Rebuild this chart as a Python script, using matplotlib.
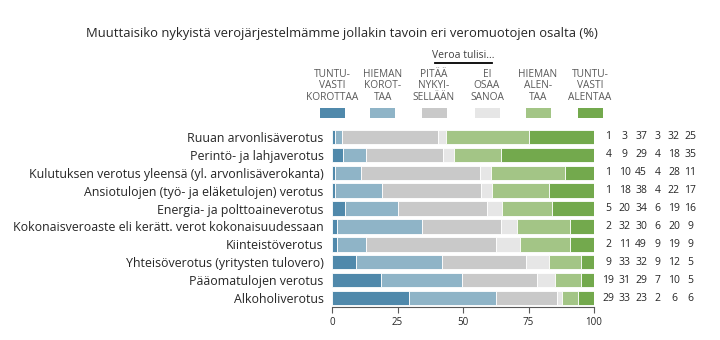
import numpy as np
import matplotlib
matplotlib.use('Agg')
import matplotlib.pyplot as plt
from matplotlib.patches import Rectangle
from matplotlib.lines import Line2D

plt.rcParams['font.family'] = ['Open Sans', 'DejaVu Sans']

categories = ['Ruuan arvonlisäverotus', 'Perintö- ja lahjaverotus',
              'Kulutuksen verotus yleensä (yl. arvonlisäverokanta)',
              'Ansiotulojen (työ- ja eläketulojen) verotus',
              'Energia- ja polttoaineverotus',
              'Kokonaisveroaste eli kerätt. verot kokonaisuudessaan',
              'Kiinteistöverotus', 'Yhteisöverotus (yritysten tulovero)',
              'Pääomatulojen verotus', 'Alkoholiverotus']

tuntuvasti_korottaa = [1, 4, 1, 1, 5, 2, 2, 9, 19, 29]
hieman_korottaa = [3, 9, 10, 18, 20, 32, 11, 33, 31, 33]
pitaa_nykyisellaan = [37, 29, 45, 38, 34, 30, 49, 32, 29, 23]
ei_osaa_sanoa = [3, 4, 4, 4, 6, 6, 9, 9, 7, 2]
hieman_alentaa = [32, 18, 28, 22, 19, 20, 19, 12, 10, 6]
tuntuvasti_alentaa = [25, 35, 11, 17, 16, 9, 9, 5, 5, 6]

legend_labels = ['TUNTU-\nVASTI\nKOROTTAA', 'HIEMAN\nKOROT-\nTAA', 'PITÄÄ\nNYKYI-\nSELLÄÄN',
                 'EI\nOSAA\nSANOA', 'HIEMAN\nALEN-\nTAA', 'TUNTU-\nVASTI\nALENTAA']
colors = ['#5089ab', '#8fb4c7', '#c9c9c9', '#e6e6e6', '#a3c586', '#73a94d']

series = np.array([tuntuvasti_korottaa, hieman_korottaa, pitaa_nykyisellaan,
                   ei_osaa_sanoa, hieman_alentaa, tuntuvasti_alentaa], dtype=float)
shares = series / series.sum(axis=0) * 100

fig = plt.figure(figsize=(7.2, 3.4), dpi=100)
ax = fig.add_axes([332 / 720, 1 - 307 / 340, 262 / 720, 179 / 340])

y = np.arange(len(categories))
left = np.zeros(len(categories))
for i in range(len(series)):
    ax.barh(y, shares[i], left=left, height=0.8, color=colors[i], edgecolor='white', linewidth=0.6)
    left += shares[i]

ax.set_ylim(len(categories) - 0.5, -0.5)
ax.set_xlim(0, 100)
ax.set_xticks([0, 25, 50, 75, 100])
ax.set_yticks(y)
ax.set_yticklabels(categories, fontsize=8.9, color='#262626')
ax.tick_params(axis='y', length=0, pad=6)
ax.tick_params(axis='x', colors='#595959', labelsize=7, length=4, labelcolor='#262626')
for s in ['top', 'right', 'left']:
    ax.spines[s].set_visible(False)
ax.spines['bottom'].set_color('#595959')

# value columns on the right
for r in range(len(categories)):
    for c in range(len(series)):
        ax.text(105.5 + c * 6.25, r, '%d' % series[c][r], ha='center', va='center',
                fontsize=7.5, color='#262626')

fig.text(342 / 720, 1 - 33 / 340,
         'Muuttaisiko nykyistä verojärjestelmämme jollakin tavoin eri veromuotojen osalta (%)',
         ha='center', va='center', fontsize=9.4, color='#262626')

# legend
fig.text(463 / 720, 1 - 56 / 340, 'Veroa tulisi...', ha='center', va='center',
         fontsize=7.5, color='#404040')
fig.add_artist(Line2D([435 / 720, 492 / 720], [1 - 62.5 / 340, 1 - 62.5 / 340],
                      color='black', linewidth=1.3, transform=fig.transFigure))
centers = [332, 383, 434, 487, 538, 590]
for cx, lab, col in zip(centers, legend_labels, colors):
    fig.text(cx / 720, 1 - 86 / 340, lab, ha='center', va='center', fontsize=7.3,
             color='#595959', linespacing=1.1)
    fig.add_artist(Rectangle(((cx - 12.5) / 720, 1 - 118 / 340), 25 / 720, 10 / 340,
                             facecolor=col, edgecolor='none', transform=fig.transFigure))

fig.savefig('out.png', dpi=100)
